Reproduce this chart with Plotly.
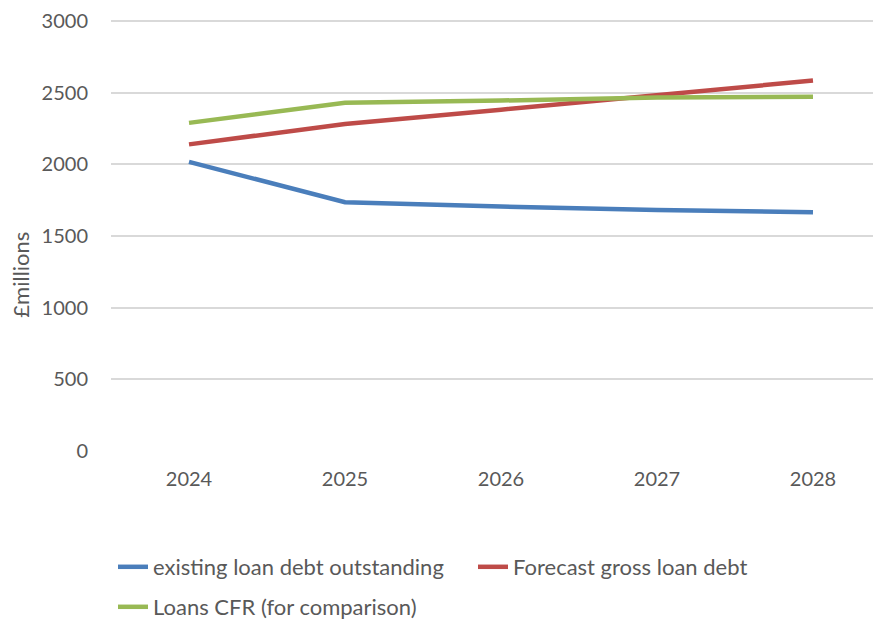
import plotly.graph_objects as go

years = ["2024", "2025", "2026", "2027", "2028"]
existing_debt = [2018, 1736, 1706, 1682, 1667]
forecast_gross = [2140, 2282, 2382, 2486, 2585]
loans_cfr = [2290, 2430, 2446, 2468, 2472]

y_ticks = [0, 500, 1000, 1500, 2000, 2500, 3000]

names = ["existing loan debt outstanding", "Forecast gross loan debt", "Loans CFR (for comparison)"]
colors = ["#4A7EBB", "#BE4B48", "#98B954"]
series = [existing_debt, forecast_gross, loans_cfr]
legend_ids = ["legend", "legend", "legend2"]

# page body has an 8px default margin, so the figure is sized to fit the window
W, H = 873, 614
T, B = 7.33, 171.3

fig = go.Figure()
for n, c, s, lg in zip(names, colors, series, legend_ids):
    fig.add_trace(go.Scatter(x=years, y=s, name=n, mode="lines", legend=lg,
                             line=dict(color=c, width=4.5)))

font_fam = "Lato, 'Open Sans', sans-serif"
grey = "#595959"
leg_common = dict(orientation="h", xref="container", yref="container",
                  xanchor="left", yanchor="middle",
                  font=dict(size=22, color=grey), itemwidth=30,
                  bgcolor="rgba(0,0,0,0)")

fig.update_layout(
    width=W, height=H,
    margin=dict(l=103, r=0, t=T, b=B),
    paper_bgcolor="white", plot_bgcolor="white",
    font=dict(family=font_fam, size=20, color=grey),
    xaxis=dict(type="category", range=[-0.5, 4.436], showgrid=False,
               showline=False, zeroline=False, ticks="", ticklabelstandoff=14,
               tickfont=dict(size=20, color=grey)),
    yaxis=dict(range=[0, 3015], tickvals=y_ticks, showgrid=True,
               gridcolor="#D9D9D9", gridwidth=1.5, zeroline=False,
               showline=False, ticks="", ticklabelstandoff=22,
               ticklabeloverflow="allow",
               tickfont=dict(size=20, color=grey)),
    legend=dict(**leg_common, x=105 / W, y=1 - 559 / H,
                entrywidth=315, entrywidthmode="pixels"),
    legend2=dict(**leg_common, x=105 / W, y=1 - 599 / H),
    showlegend=True,
    annotations=[dict(text="£millions", textangle=-90, xref="paper", yref="paper",
                      x=-(103 - 13) / (W - 103), y=(H - B - 265) / (H - B - T),
                      xanchor="center", yanchor="middle", showarrow=False,
                      font=dict(size=22, color=grey))],
)

fig.write_html("out.html")
